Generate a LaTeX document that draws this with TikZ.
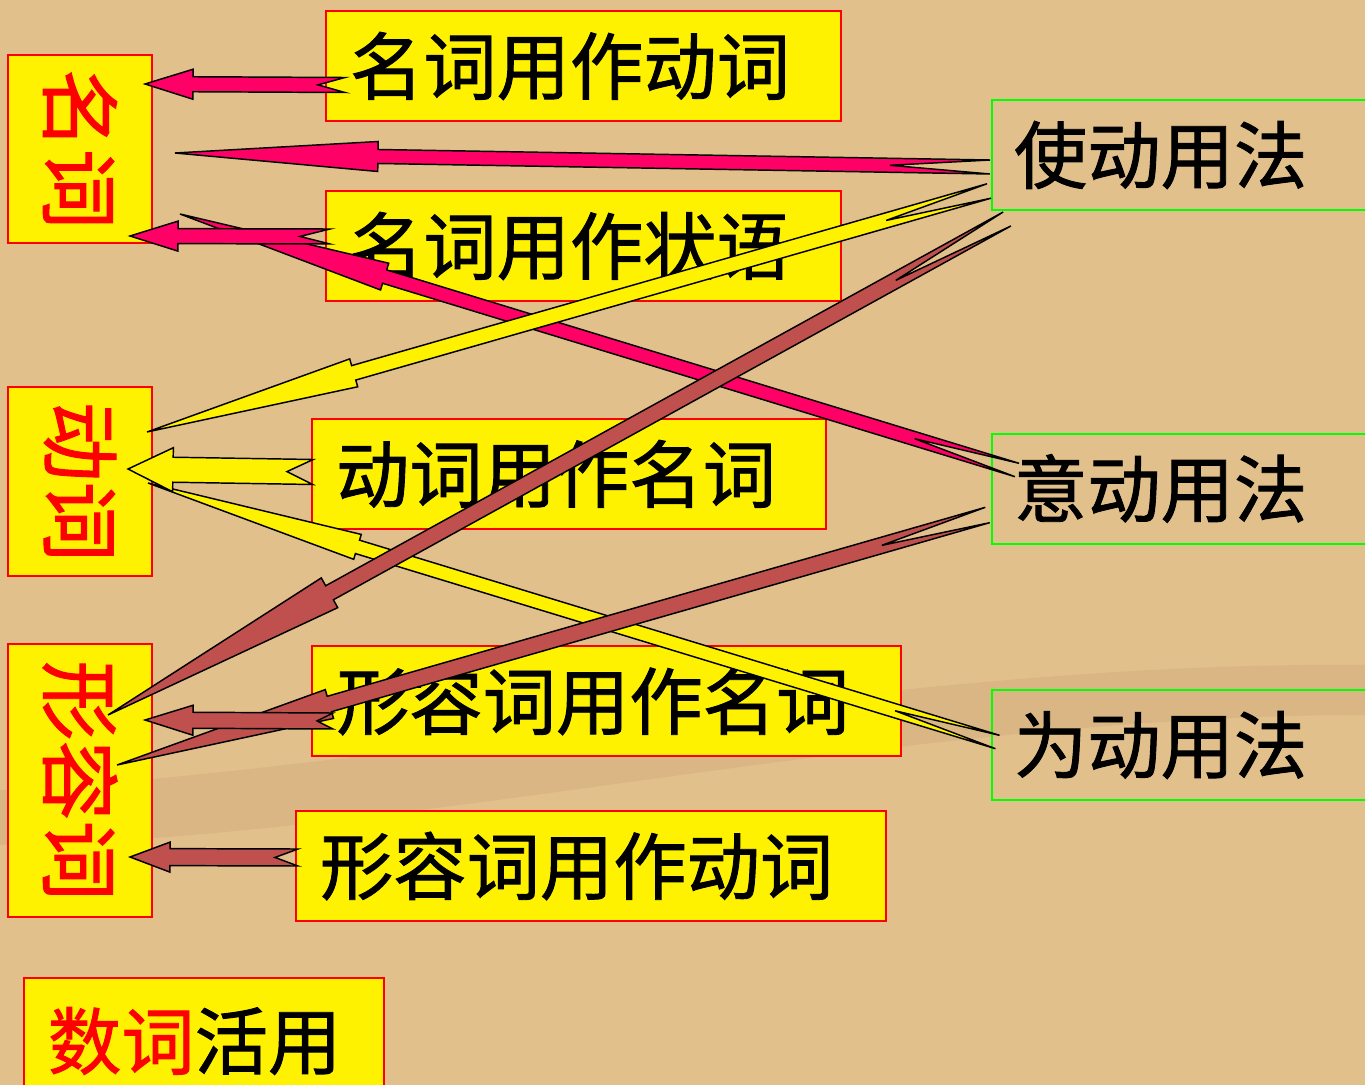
\documentclass[tikz,border=0pt]{standalone}
\usepackage{fontspec}
\newfontfamily\zh[FakeBold=1.2]{Noto Sans CJK SC}
\usetikzlibrary{calc}
\definecolor{parch}{RGB}{226,192,140}
\definecolor{rosy}{RGB}{255,0,102}
\definecolor{brick}{RGB}{192,80,77}
\definecolor{lime}{RGB}{0,255,0}
\tikzset{
  usage/.style={draw=red,line width=1.5pt,fill=yellow,inner xsep=18pt,inner ysep=0pt,minimum height=82.5pt,align=left,anchor=north west,font=\zh\fontsize{55}{60}\selectfont},
  kind/.style={draw=red,line width=1.5pt,fill=yellow,text=red,rotate=-90,inner sep=0pt,minimum height=108pt,font=\zh\fontsize{60}{66}\selectfont},
  method/.style={draw=lime,line width=1.5pt,inner xsep=16.5pt,inner ysep=0pt,minimum height=82.5pt,text width=270pt,align=left,anchor=west,font=\zh\fontsize{55}{60}\selectfont},
  pinkarrow/.style={fill=rosy,draw=black,line width=1.1pt,line join=miter},
  yellowarrow/.style={fill=yellow,draw=black,line width=1.1pt,line join=miter},
  brickarrow/.style={fill=brick,draw=black,line width=1.1pt,line join=miter}
}
% notched block arrow: style, tail, tip, notch depth, head length, shaft half width, head half width (px)
\newcommand\notcharrow[7]{%
  \path (#2) coordinate (tl) (#3) coordinate (tp);
  \coordinate (hb) at ($(tp)!#5*0.75pt!(tl)$);
  \filldraw[#1] ($(tl)!#4*0.75pt!(tp)$) -- ($(tl)!#6*0.75pt!90:(tp)$) -- ($(hb)!#6*0.75pt!90:(tp)$)
    -- ($(hb)!#7*0.75pt!90:(tp)$) -- (tp) -- ($(hb)!#7*0.75pt!-90:(tp)$)
    -- ($(hb)!#6*0.75pt!-90:(tp)$) -- ($(tl)!#6*0.75pt!-90:(tp)$) -- cycle;}

\begin{document}
\begin{tikzpicture}[x=0.75pt,y=-0.75pt]
  \useasboundingbox (0,0) rectangle (1365,1085);
  \fill[parch] (0,0) rectangle (1365,1085);
  \fill[brown!70!black,opacity=0.09] (0,790) .. controls (400,770) and (900,660) .. (1365,665)
    -- (1365,715) .. controls (900,715) and (400,840) .. (0,845) -- cycle;

  % word classes
  \node[kind,minimum width=141pt] (noun) at (80,149) {名词};
  \node[kind,minimum width=141.75pt] (verb) at (80,481.5) {动词};
  \node[kind,minimum width=204.75pt] (adj) at (80,780.5) {形容词};
  \node[usage,text width=234pt,minimum height=94.5pt] (num) at (23,977) {\textcolor{red}{数词}活用};

  % usages
  \node[usage,text width=350.25pt] (nv) at (325,10) {名词用作动词};
  \node[usage,text width=350.25pt] (na) at (325,190) {名词用作状语};
  \node[usage,text width=349.5pt] (vn) at (311,418) {动词用作名词};
  \node[usage,text width=405.75pt] (an) at (311,645) {形容词用作名词};
  \node[usage,text width=406.5pt] (av) at (295,810) {形容词用作动词};

  % methods
  \node[method] (caus) at (991,155) {使动用法};
  \node[method] (puta) at (991,488.5) {意动用法};
  \node[method] (purp) at (991,745) {为动用法};

  % long arrows
  \notcharrow{pinkarrow}{$(puta.west)+(26,-18.5)$}{$(noun)+(100,65)$}{107}{214}{7}{14}
  \notcharrow{pinkarrow}{$(caus.west)+(-1,12)$}{$(noun)+(95,4)$}{100}{203}{7}{15}
  \notcharrow{yellowarrow}{$(caus.west)+(-2,36)$}{$(verb)+(67,-49.5)$}{107}{215}{7.5}{14.5}
  \notcharrow{yellowarrow}{$(purp.west)+(6.5,-3)$}{$(verb)+(68,1.5)$}{107}{219}{7}{13}
  \notcharrow{brickarrow}{$(caus.west)+(16,64)$}{$(adj)+(28,-65.5)$}{127}{253}{8}{17}
  \notcharrow{brickarrow}{$(puta.west)+(-3.5,26.5)$}{$(adj)+(37,-15.5)$}{110}{221}{8}{15}

  % short arrows
  \notcharrow{pinkarrow}{$(nv.west)+(20,19)$}{$(noun)+(65,-65)$}{27}{48}{7.5}{15}
  \notcharrow{pinkarrow}{$(na.west)+(5,-9.5)$}{$(noun)+(50,87)$}{30}{48}{7.5}{15}
  \notcharrow{yellowarrow}{$(vn.west)+(2,-2)$}{$(verb)+(48,-12.5)$}{26}{45}{12.5}{22}
  \notcharrow{brickarrow}{$(an.west)+(22,20)$}{$(adj)+(65,-60.5)$}{16}{48}{8}{15}
  \notcharrow{brickarrow}{$(av.west)+(3,-8.5)$}{$(adj)+(50,76.5)$}{23}{40}{8.5}{15}
\end{tikzpicture}
\end{document}
